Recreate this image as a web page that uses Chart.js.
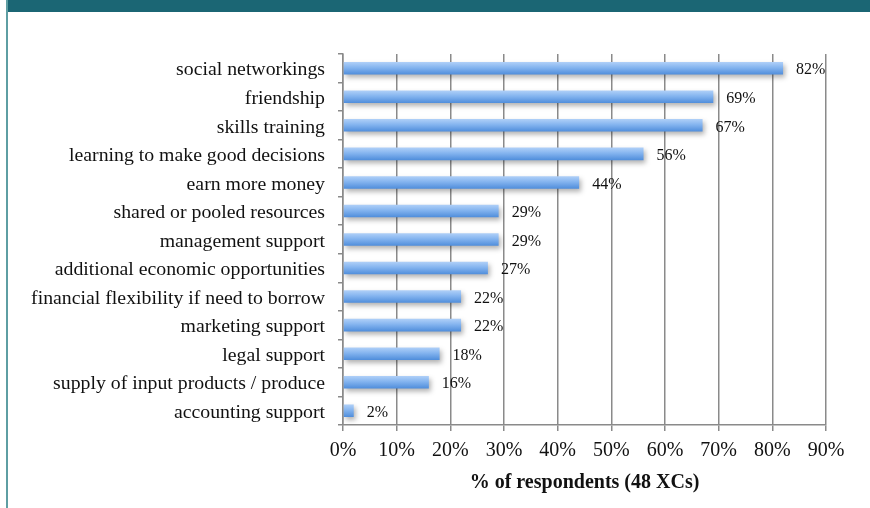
<!DOCTYPE html>
<html>
<head>
<meta charset="utf-8">
<script src="https://cdn.jsdelivr.net/npm/chart.js@4/dist/chart.umd.min.js"></script>
<style>
  html, body { margin: 0; padding: 0; background: #ffffff; }
  #frame { position: relative; width: 870px; height: 508px; overflow: hidden; }
  #topband { position: absolute; left: 6px; top: 0; width: 864px; height: 12px; background: #1b6674; }
  #leftrule { position: absolute; left: 6px; top: 0; width: 2px; height: 508px; background: #5e9ea3; }
  #chart { position: absolute; left: 0; top: 0; }
</style>
</head>
<body>
<div id="frame">
  <canvas id="chart" width="870" height="508"></canvas>
  <div id="topband"></div>
  <div id="leftrule"></div>
</div>
<script>
// Reasons given by respondents, top to bottom
const categories = [
  'social networkings',
  'friendship',
  'skills training',
  'learning to make good decisions',
  'earn more money',
  'shared or pooled resources',
  'management support',
  'additional economic opportunities',
  'financial flexibility if need to borrow',
  'marketing support',
  'legal support',
  'supply of input products / produce',
  'accounting support'
];
// Share of respondents (%)
const percentValues = [82, 69, 67, 56, 44, 29, 29, 27, 22, 22, 18, 16, 2];
const xTickValues = [0, 10, 20, 30, 40, 50, 60, 70, 80, 90];
const axisTitle = '% of respondents (48 XCs)';

const SERIF = '"Liberation Serif", "Times New Roman", serif';
const BAR_PCT = 0.44;

// Vertical gradient for each bar, built from its category position on the y scale
function barGradient(ctx) {
  const chart = ctx.chart;
  const yScale = chart.scales.y;
  if (!yScale || ctx.dataIndex === undefined) return '#7eb0ee';
  const center = yScale.getPixelForValue(ctx.dataIndex);
  const band = Math.abs(yScale.getPixelForValue(1) - yScale.getPixelForValue(0));
  if (!isFinite(center) || !isFinite(band) || band <= 0) return '#7eb0ee';
  const half = band * BAR_PCT / 2;
  const g = chart.ctx.createLinearGradient(0, center - half, 0, center + half);
  g.addColorStop(0, '#b0d0f8');
  g.addColorStop(0.45, '#84b4ef');
  g.addColorStop(1, '#4f8ddb');
  return g;
}

// Soft drop shadow behind the bars
const barShadow = {
  id: 'barShadow',
  beforeDatasetDraw(chart) {
    const c = chart.ctx;
    c.save();
    c.shadowColor = 'rgba(0,0,0,0.3)';
    c.shadowBlur = 5;
    c.shadowOffsetX = 2;
    c.shadowOffsetY = 3;
  },
  afterDatasetDraw(chart) {
    chart.ctx.restore();
  }
};

// Percentage label just past the end of each bar
const valueLabels = {
  id: 'valueLabels',
  afterDatasetsDraw(chart) {
    const c = chart.ctx;
    const meta = chart.getDatasetMeta(0);
    c.save();
    c.font = '16px ' + SERIF;
    c.fillStyle = '#111111';
    c.textAlign = 'left';
    c.textBaseline = 'middle';
    meta.data.forEach((bar, i) => {
      c.fillText(percentValues[i] + '%', bar.x + 13, bar.y + 2);
    });
    c.restore();
  }
};

new Chart(document.getElementById('chart'), {
  type: 'bar',
  data: {
    labels: categories,
    datasets: [{
      data: percentValues,
      backgroundColor: barGradient,
      borderWidth: 0,
      barPercentage: BAR_PCT,
      categoryPercentage: 1.0
    }]
  },
  options: {
    indexAxis: 'y',
    responsive: false,
    animation: false,
    layout: { padding: { left: 0, right: 44, top: 54, bottom: 0 } },
    plugins: {
      legend: { display: false },
      tooltip: { enabled: false }
    },
    scales: {
      x: {
        min: 0,
        max: 90,
        afterBuildTicks(scale) {
          scale.ticks = xTickValues.map(v => ({ value: v }));
        },
        afterFit(scale) { scale.height = 83; },
        grid: {
          color: '#8a8a8a',
          lineWidth: 1.5,
          drawTicks: true,
          tickLength: 6,
          tickColor: '#8a8a8a'
        },
        border: { display: true, color: '#8a8a8a', width: 1.5 },
        ticks: {
          callback: v => v + '%',
          color: '#111111',
          font: { family: SERIF, size: 20 },
          padding: 8,
          maxRotation: 0
        },
        title: {
          display: true,
          text: axisTitle,
          color: '#111111',
          font: { family: SERIF, size: 20, weight: 'bold' },
          padding: { top: 4, bottom: 13 }
        }
      },
      y: {
        afterFit(scale) { scale.width = 343; },
        grid: {
          offset: true,
          drawOnChartArea: false,
          drawTicks: true,
          tickLength: 5,
          tickColor: '#8a8a8a',
          lineWidth: 1.5
        },
        border: { display: true, color: '#8a8a8a', width: 1.5 },
        ticks: {
          color: '#111111',
          font: { family: SERIF, size: 19.8 },
          padding: 13,
          labelOffset: 2,
          autoSkip: false
        }
      }
    }
  },
  plugins: [barShadow, valueLabels]
});
</script>
</body>
</html>
